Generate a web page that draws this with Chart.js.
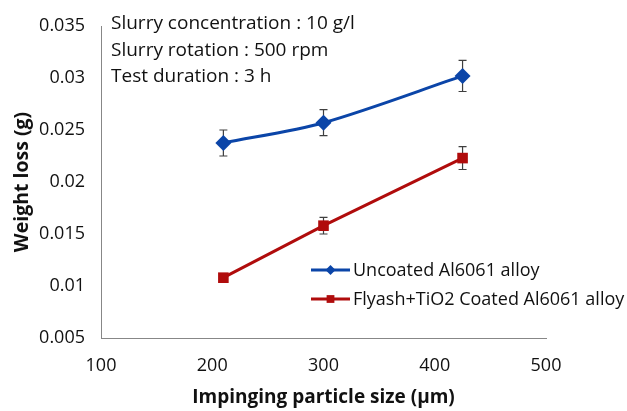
<!DOCTYPE html>
<html>
<head>
<meta charset="utf-8">
<script src="https://cdn.jsdelivr.net/npm/chart.js@4.4.1/dist/chart.umd.min.js"></script>
<style>
  html, body { margin: 0; padding: 0; background: #fff; }
  #box { width: 627px; height: 411px; }
</style>
</head>
<body>
<div id="box"><canvas id="grafica"></canvas></div>
<script>
// datos
const tamanos = [210, 300, 425];
const sinRecubrir = [0.02375, 0.0257, 0.0302];
const sinRecubrirError = [0.00125, 0.00125, 0.0015];
const recubierto = [0.0108, 0.0158, 0.0223];
const recubiertoError = [0.0003, 0.0008, 0.0011];
const nombres = ["Uncoated Al6061 alloy", "Flyash+TiO2 Coated Al6061 alloy"];
const notas = ["Slurry concentration : 10 g/l", "Slurry rotation : 500 rpm", "Test duration : 3 h"];
const ticksX = [100, 200, 300, 400, 500];
const ticksY = [0.005, 0.01, 0.015, 0.02, 0.025, 0.03, 0.035];
const etiquetasY = ["0.005", "0.01", "0.015", "0.02", "0.025", "0.03", "0.035"];

const AZUL = "#0b45a8";
const ROJO = "#b00c0c";
const GRIS = "#878787";
const FUENTE = "'Open Sans', sans-serif";

function puntos(valores) {
  return valores.map((v, i) => ({ x: tamanos[i], y: v }));
}

// barras de error, debajo de los marcadores
const barrasError = {
  id: "barrasError",
  beforeDatasetsDraw(chart) {
    const ctx = chart.ctx;
    const sx = chart.scales.x, sy = chart.scales.y;
    const errores = [sinRecubrirError, recubiertoError];
    ctx.save();
    ctx.strokeStyle = "#3f3f3f";
    ctx.lineWidth = 1.2;
    chart.data.datasets.forEach((ds, d) => {
      ds.data.forEach((p, i) => {
        const x = sx.getPixelForValue(p.x);
        const y1 = sy.getPixelForValue(p.y + errores[d][i]);
        const y2 = sy.getPixelForValue(p.y - errores[d][i]);
        ctx.beginPath();
        ctx.moveTo(x, y1); ctx.lineTo(x, y2);
        ctx.moveTo(x - 4, y1); ctx.lineTo(x + 4, y1);
        ctx.moveTo(x - 4, y2); ctx.lineTo(x + 4, y2);
        ctx.stroke();
      });
    });
    ctx.restore();
  }
};

// notas y leyenda dentro del area
const textos = {
  id: "textos",
  afterDraw(chart) {
    const ctx = chart.ctx;
    ctx.save();
    ctx.fillStyle = "#111";
    ctx.font = "19px " + FUENTE;
    ctx.textBaseline = "alphabetic";
    ctx.textAlign = "left";
    notas.forEach((t, i) => ctx.fillText(t, 111, 29 + i * 26.5));

    const colores = [AZUL, ROJO];
    const estilos = ["rectRot", "rect"];
    const radios = [5, 5.5];
    ctx.font = "18px " + FUENTE;
    nombres.forEach((n, i) => {
      const y = 270 + i * 29;
      ctx.strokeStyle = colores[i];
      ctx.lineWidth = 3;
      ctx.beginPath();
      ctx.moveTo(311, y); ctx.lineTo(350, y);
      ctx.stroke();
      ctx.fillStyle = colores[i];
      Chart.helpers.drawPoint(ctx, { pointStyle: estilos[i], radius: radios[i], borderWidth: 0 }, 330.5, y);
      ctx.fillStyle = "#111";
      ctx.textBaseline = "middle";
      ctx.fillText(n, 353, y + 1);
    });
    ctx.restore();
  }
};

const grafica = new Chart(document.getElementById("grafica"), {
  type: "scatter",
  data: {
    datasets: [
      {
        label: nombres[0],
        data: puntos(sinRecubrir),
        showLine: true,
        borderColor: AZUL,
        backgroundColor: AZUL,
        borderWidth: 3,
        tension: 0.3,
        pointStyle: "rectRot",
        pointRadius: 8,
        pointBorderWidth: 0
      },
      {
        label: nombres[1],
        data: puntos(recubierto),
        showLine: true,
        borderColor: ROJO,
        backgroundColor: ROJO,
        borderWidth: 3,
        tension: 0,
        pointStyle: "rect",
        pointRadius: 7.5,
        pointBorderWidth: 0
      }
    ]
  },
  options: {
    responsive: true,
    maintainAspectRatio: false,
    animation: false,
    layout: { padding: { top: 26, right: 81, left: 0, bottom: 0 } },
    plugins: {
      legend: { display: false },
      tooltip: { enabled: false }
    },
    scales: {
      x: {
        type: "linear",
        min: 100,
        max: 500,
        afterFit: (s) => { s.height = 73; },
        afterBuildTicks: (s) => { s.ticks = ticksX.map(v => ({ value: v })); },
        grid: { display: false, drawTicks: true, tickLength: 6, tickColor: GRIS },
        border: { color: GRIS, width: 1 },
        ticks: { color: "#111", font: { family: FUENTE, size: 18 }, padding: 11 },
        title: {
          display: true,
          text: "Impinging particle size (µm)",
          color: "#111",
          font: { family: FUENTE, size: 19, weight: "bold" },
          padding: { top: 0, bottom: 2 }
        }
      },
      y: {
        min: 0.005,
        max: 0.035,
        afterFit: (s) => { s.width = 101; },
        afterBuildTicks: (s) => { s.ticks = ticksY.map(v => ({ value: v })); },
        grid: { display: false, drawTicks: true, tickLength: 6, tickColor: GRIS },
        border: { color: GRIS, width: 1 },
        ticks: {
          color: "#111",
          font: { family: FUENTE, size: 18 },
          padding: 10,
          callback: (v, i) => etiquetasY[i]
        },
        title: {
          display: true,
          text: "Weight loss (g)",
          color: "#111",
          font: { family: FUENTE, size: 19.5, weight: "bold" },
          padding: { top: 11, bottom: 0 }
        }
      }
    }
  },
  plugins: [barrasError, textos]
});
</script>
</body>
</html>
